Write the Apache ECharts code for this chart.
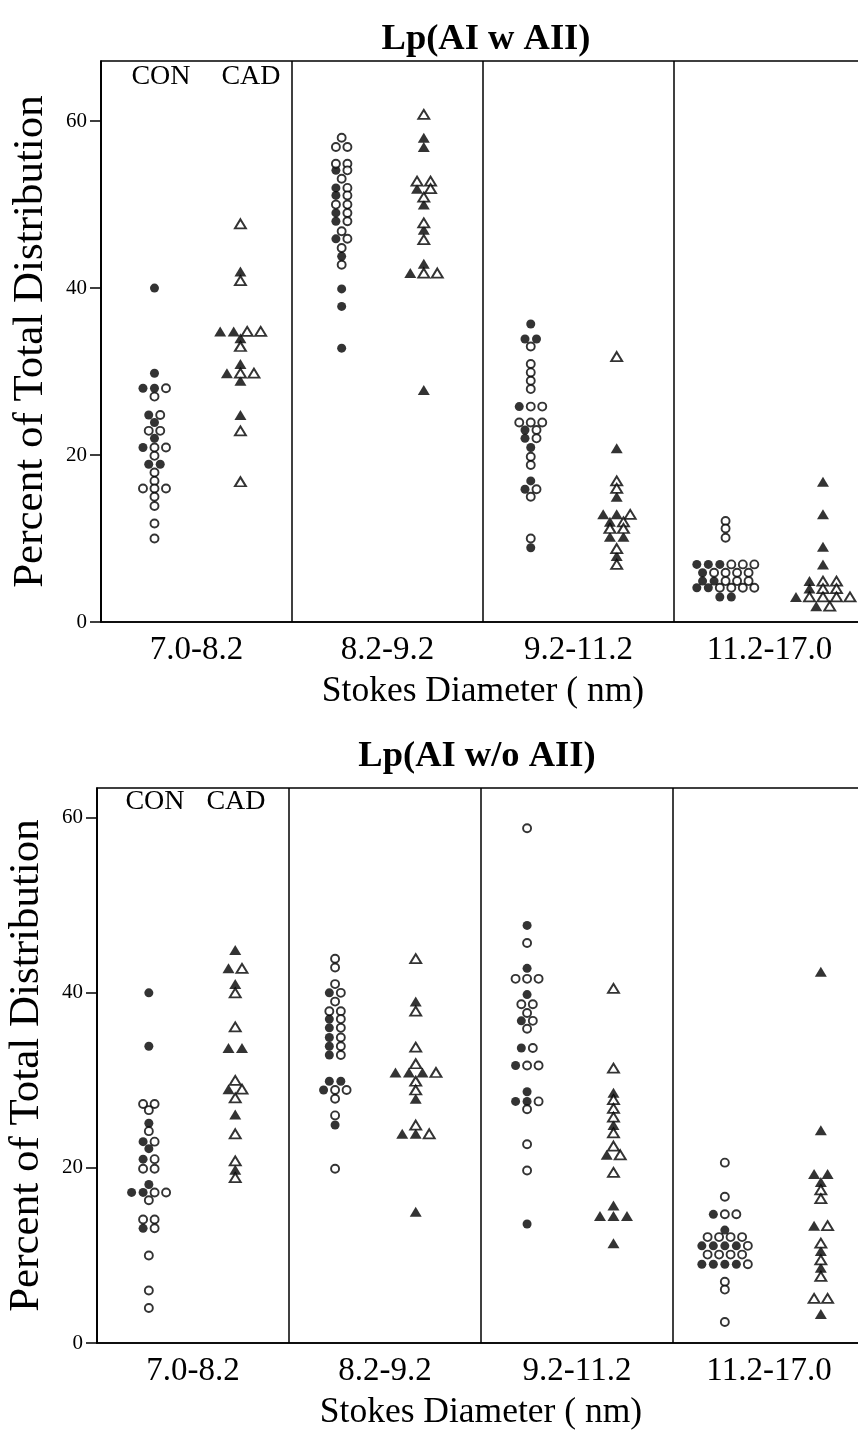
<!DOCTYPE html>
<html>
<head>
<meta charset="utf-8">
<script src="https://cdn.jsdelivr.net/npm/echarts@6/dist/echarts.min.js"></script>
<style>
html,body{margin:0;padding:0;background:#fff;}
#c{width:858px;height:1431px;}
</style>
</head>
<body>
<div id="c"></div>
<script>
// ---------------- DATA ----------------
const categories = ['7.0-8.2', '8.2-9.2', '9.2-11.2', '11.2-17.0'];
const yTicks = [0, 20, 40, 60];

// Panel 1: Lp(AI w AII)
const wConFilled = [
  [40, 29.8, 28, 28, 24.8, 23.9, 22, 20.9, 18.9, 18.9],
  [54.1, 52, 51.1, 49, 48, 45.9, 43.8, 39.9, 37.8, 32.8],
  [35.7, 33.9, 33.9, 25.8, 23, 22, 20.9, 16.9, 15.9, 8.9],
  [6.9, 6.9, 6.9, 5.9, 4.9, 4.9, 4.1, 4.1, 3.0, 3.0]
];
const wConOpen = [
  [28, 27, 24.8, 22.9, 22.9, 20.9, 20.9, 19.9, 17.9, 16.9, 16, 16, 16, 15, 13.9, 11.8, 10],
  [58, 56.9, 56.9, 54.9, 54.9, 54.1, 53.1, 52, 51.1, 50, 50, 49, 48, 46.8, 45.9, 44.8, 42.8],
  [33, 30.9, 29.9, 28.9, 27.9, 25.8, 25.8, 23.9, 23.9, 23.9, 23, 22, 19.8, 18.8, 15.9, 15, 10],
  [12.1, 11.2, 10.1, 6.9, 6.9, 6.9, 5.9, 5.9, 5.9, 5.9, 4.9, 4.9, 4.9, 4.1, 4.1, 4.1, 4.1]
];
const wCadFilled = [
  [42, 34.8, 34.8, 34, 30.9, 29.8, 28.9, 24.8],
  [58, 56.9, 51.9, 50, 47, 42.9, 41.8, 27.8],
  [20.8, 15, 12.9, 12.9, 12, 10.2, 10.2, 7.9],
  [16.8, 12.9, 9, 6.9, 4.9, 4, 3, 1.9]
];
const wCadOpen = [
  [47.7, 40.9, 34.8, 34.8, 33, 29.8, 29.8, 22.9, 16.8],
  [60.8, 52.8, 52.8, 51.9, 50.9, 47.8, 45.8, 41.8, 41.8],
  [31.8, 16.9, 16, 12.9, 12, 11.2, 11.2, 8.8, 6.9],
  [4.9, 4.9, 4, 4, 3, 3, 3, 3, 1.9]
];

// Panel 2: Lp(AI w/o AII)
const woConFilled = [
  [40, 33.9, 25.1, 23, 22.2, 21, 18.1, 17.2, 17.2, 13.1],
  [40, 37, 36, 34.9, 33.9, 32.9, 29.9, 29.9, 28.9, 24.9],
  [47.7, 42.8, 39.8, 36.8, 33.7, 31.7, 28.7, 27.6, 27.6, 13.6],
  [14.7, 12.9, 11.1, 11.1, 11.1, 11.1, 9, 9, 9, 9]
];
const woConOpen = [
  [27.3, 27.3, 26.6, 24.2, 23, 21, 19.9, 19.9, 17.2, 17.2, 16.3, 14.1, 14.1, 13.1, 10, 6, 4],
  [43.9, 42.9, 41, 40, 39, 37.9, 37.9, 37, 36, 34.9, 33.9, 32.9, 28.9, 28.9, 27.9, 26, 19.9],
  [58.8, 45.7, 41.6, 41.6, 41.6, 38.7, 38.7, 37.7, 36.8, 35.9, 33.7, 31.7, 31.7, 27.6, 26.7, 22.7, 19.7],
  [20.6, 16.7, 14.7, 14.7, 12.1, 12.1, 12.1, 12.1, 11.1, 10.1, 10.1, 10.1, 10.1, 9, 7, 6.1, 2.4]
];
const woCadFilled = [
  [44.9, 42.8, 41, 33.7, 33.7, 29, 26.1, 19.8],
  [39, 30.9, 30.9, 30.9, 27.9, 23.9, 23.9, 15],
  [28.6, 24.9, 21.5, 15.7, 14.5, 14.5, 14.5, 11.4],
  [42.4, 24.3, 19.3, 19.3, 18.4, 13.4, 10.5, 8.6, 3.3]
];
const woCadOpen = [
  [42.8, 40, 36.1, 30, 29, 28, 23.9, 20.8, 18.9],
  [43.9, 37.9, 33.8, 31.9, 30.9, 29.9, 28.9, 24.9, 23.9],
  [40.5, 31.4, 27.8, 26.8, 25.8, 24, 22.5, 21.5, 19.5],
  [17.5, 16.5, 13.4, 11.4, 9.5, 7.6, 5.1, 5.1]
];

// ---------------- LAYOUT ----------------
const FONT = "'Liberation Serif','Times New Roman','DejaVu Serif',serif";
const panels = [
  { title: 'Lp(AI w AII)', titleX: 486, titleY: 40,
    left: 101, top: 61, width: 764, height: 561, ymax: 67.2,
    conF: wConFilled, conO: wConOpen, cadF: wCadFilled, cadO: wCadOpen,
    conPos: [0.28, 0.26, 0.25, 0.27], cadPos: [0.73, 0.69, 0.70, 0.78],
    conLbl: [161, 77], cadLbl: [251, 77] },
  { title: 'Lp(AI w/o AII)', titleX: 477, titleY: 757,
    left: 97, top: 788, width: 768, height: 555, ymax: 63.4,
    conF: woConFilled, conO: woConOpen, cadF: woCadFilled, cadO: woCadOpen,
    conPos: [0.27, 0.24, 0.24, 0.27], cadPos: [0.72, 0.66, 0.69, 0.77],
    conLbl: [155, 802], cadLbl: [236, 802] }
];

// dot-plot row layout: equal values share a row, spread side by side
function swarm(filled, open, spacing) {
  const items = filled.map(v => ({ v, f: 1 })).concat(open.map(v => ({ v, f: 0 })));
  items.sort((a, b) => b.v - a.v || b.f - a.f);
  const rows = [];
  items.forEach(it => {
    const last = rows[rows.length - 1];
    if (last && Math.abs(last.v0 - it.v) <= 0.3) last.items.push(it);
    else rows.push({ v0: it.v, items: [it] });
  });
  const out = [];
  rows.forEach(r => {
    r.items.sort((a, b) => b.f - a.f);
    const n = r.items.length;
    r.items.forEach((it, i) => out.push({ v: it.v, f: it.f, off: (i - (n - 1) / 2) * spacing }));
  });
  return out;
}

const grids = [], xAxes = [], yAxes = [], series = [], graphics = [];
panels.forEach((p, pi) => {
  grids.push({ left: p.left, top: p.top, width: p.width, height: p.height,
    containLabel: false, outerBoundsMode: 'none',
    show: true, borderColor: '#000', borderWidth: 1.5, backgroundColor: 'transparent' });
  xAxes.push({ type: 'value', gridIndex: pi, min: 0, max: 4, interval: 1, position: 'bottom',
    axisLine: { show: true, lineStyle: { color: '#000', width: 1.5 } },
    axisTick: { show: false }, axisLabel: { show: false },
    splitLine: { show: true, lineStyle: { color: '#000', width: 1.5 } } });
  xAxes.push({ type: 'category', gridIndex: pi, data: categories, boundaryGap: true, position: 'bottom',
    axisLine: { show: false }, axisTick: { show: false },
    axisLabel: { fontFamily: FONT, fontSize: 33, color: '#000', margin: 12 },
    name: 'Stokes Diameter ( nm)', nameLocation: 'middle', nameGap: 52,
    nameTextStyle: { fontFamily: FONT, fontSize: 35.5, color: '#000' } });
  yAxes.push({ type: 'value', gridIndex: pi, min: 0, max: p.ymax, interval: 20,
    axisLine: { show: true, lineStyle: { color: '#000', width: 1.5 } },
    axisTick: { show: true, length: 11, customValues: yTicks, lineStyle: { color: '#000', width: 1.5 } },
    axisLabel: { customValues: yTicks, fontFamily: FONT, fontSize: 21, color: '#000', margin: 14 },
    splitLine: { show: false },
    name: 'Percent of Total Distribution', nameLocation: 'middle', nameGap: 49,
    nameTextStyle: { fontFamily: FONT, fontSize: 43, color: '#000' } });

  const pxPerX = p.width / 4;
  const mk = (grpArrF, grpArrO, pos, spacing) => {
    const filled = [], open = [];
    for (let g = 0; g < 4; g++) {
      swarm(grpArrF[g], grpArrO[g], spacing).forEach(pt => {
        const d = [g + pos[g] + pt.off / pxPerX, pt.v];
        (pt.f ? filled : open).push(d);
      });
    }
    return { filled, open };
  };
  const con = mk(p.conF, p.conO, p.conPos, 11.5);
  const cad = mk(p.cadF, p.cadO, p.cadPos, 13.5);
  const xi = pi * 2, yi = pi;
  series.push({ name: 'CON filled', type: 'scatter', xAxisIndex: xi, yAxisIndex: yi, data: con.filled,
    symbol: 'circle', symbolSize: 9, itemStyle: { color: '#000' }, z: 3 });
  series.push({ name: 'CON open', type: 'scatter', xAxisIndex: xi, yAxisIndex: yi, data: con.open,
    symbol: 'circle', symbolSize: 8, itemStyle: { color: '#fff', borderColor: '#000', borderWidth: 1.9 }, z: 4 });
  series.push({ name: 'CAD filled', type: 'scatter', xAxisIndex: xi, yAxisIndex: yi, data: cad.filled,
    symbol: 'triangle', symbolSize: [12, 10], itemStyle: { color: '#000' }, z: 3 });
  series.push({ name: 'CAD open', type: 'scatter', xAxisIndex: xi, yAxisIndex: yi, data: cad.open,
    symbol: 'triangle', symbolSize: [11, 9], itemStyle: { color: '#fff', borderColor: '#000', borderWidth: 1.9 }, z: 4 });

  graphics.push({ type: 'text', x: p.titleX, y: p.titleY,
    style: { text: p.title, font: 'bold 36.5px ' + FONT, fill: '#000', textAlign: 'center', textVerticalAlign: 'middle' } });
  graphics.push({ type: 'text', x: p.conLbl[0], y: p.conLbl[1],
    style: { text: 'CON', font: '28px ' + FONT, fill: '#000', textAlign: 'center', textVerticalAlign: 'middle' } });
  graphics.push({ type: 'text', x: p.cadLbl[0], y: p.cadLbl[1],
    style: { text: 'CAD', font: '28px ' + FONT, fill: '#000', textAlign: 'center', textVerticalAlign: 'middle' } });
});

const chart = echarts.init(document.getElementById('c'), null, { renderer: 'canvas' });
chart.setOption({
  backgroundColor: '#fff',
  animation: false,
  grid: grids, xAxis: xAxes, yAxis: yAxes, series: series, graphic: graphics
});
</script>
</body>
</html>
